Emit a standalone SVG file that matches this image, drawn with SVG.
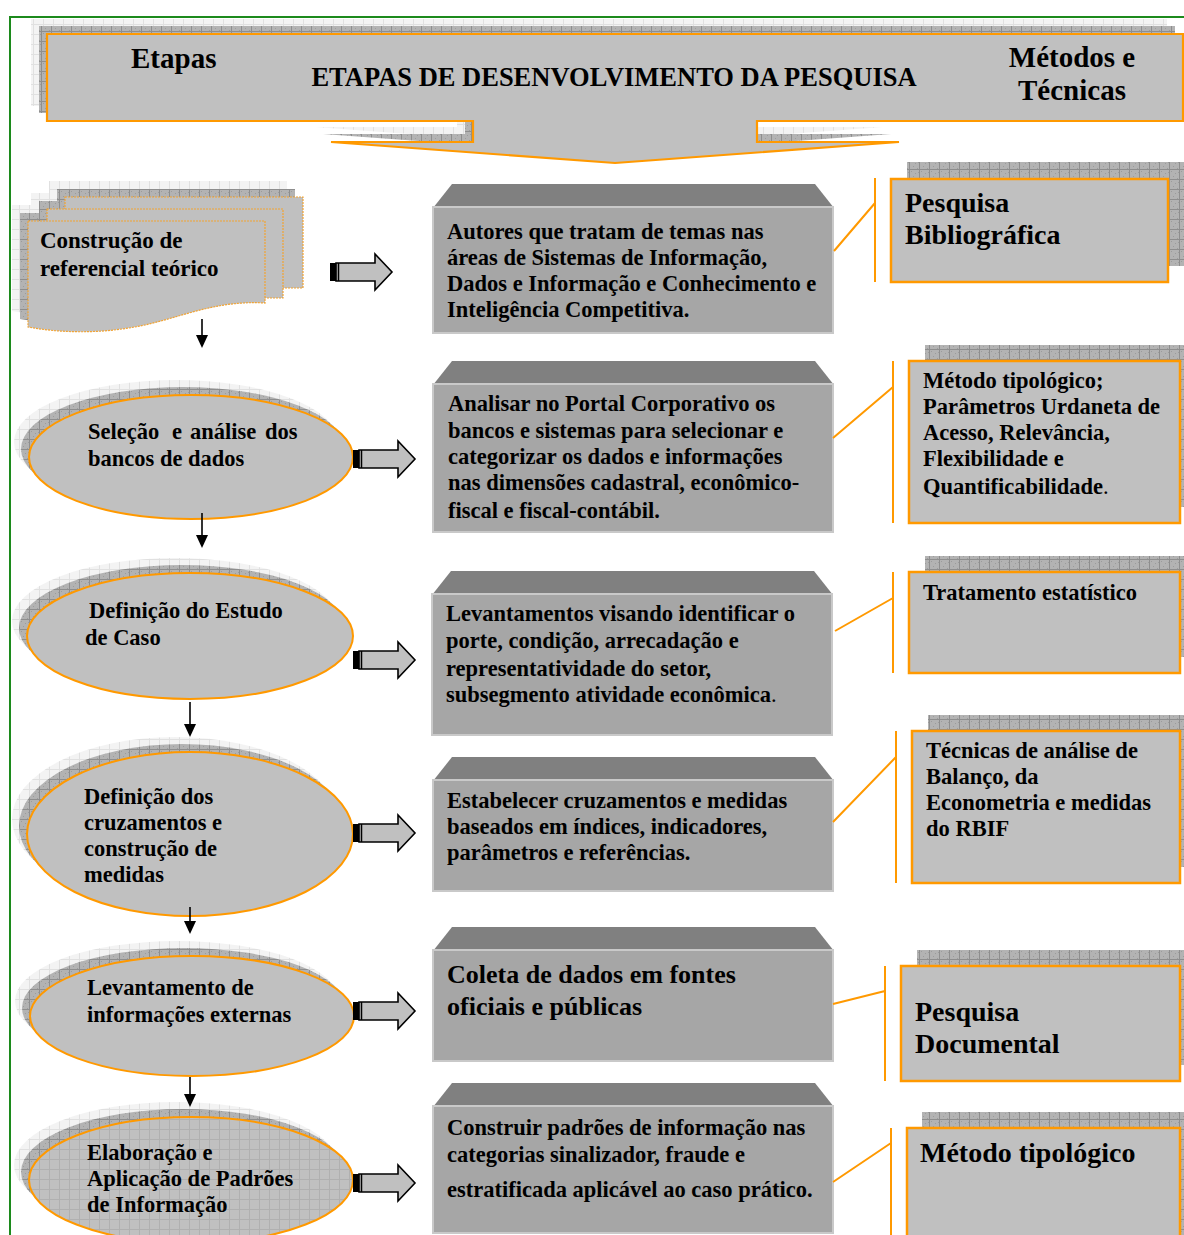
<svg xmlns="http://www.w3.org/2000/svg" width="1184" height="1235" viewBox="0 0 1184 1235">
  <defs>
    <!-- dithered grid used for the dark drop shadows -->
    <pattern id="chkDark" width="10" height="10" patternUnits="userSpaceOnUse">
      <rect width="10" height="10" fill="#b3b3b3"/>
      <path d="M1,1h1v1h-1zM5,3h1v1h-1zM3,6h1v1h-1zM7,8h1v1h-1zM8,2h1v1h-1z" fill="#9c9c9c"/>
      <path d="M0,9.5H10M9.5,0V10" stroke="#8e8e8e" stroke-width="1"/>
    </pattern>
    <!-- pale grid used for the outer soft shadows -->
    <pattern id="chkLight" width="10" height="10" patternUnits="userSpaceOnUse">
      <rect width="10" height="10" fill="#f3f3f3"/>
      <path d="M0,9.5H10M9.5,0V10" stroke="#e0e0e0" stroke-width="1"/>
    </pattern>
    <!-- grid overlay (lines only) -->
    <pattern id="gridOver" width="10" height="10" patternUnits="userSpaceOnUse">
      <path d="M0,9.5H10M9.5,0V10" stroke="#8a8a8a" stroke-width="1"/>
    </pattern>
    <!-- striped block arrow, origin at left-centre -->
    <g id="blockArrow">
      <path d="M6,-9H45V-18L62,0L45,18V9H6Z" fill="#c0c0c0" stroke="#000" stroke-width="1.6" stroke-linejoin="miter"/>
      <rect x="0" y="-9" width="6" height="18" fill="#000"/>
      <line x1="8.5" y1="-9" x2="8.5" y2="9" stroke="#000" stroke-width="1.5"/>
    </g>
    <!-- header banner outline -->
    <path id="bannerShape" d="M47,34H1183V121H757V142H899L615,163L331,142H473V121H47Z"/>
    <!-- small down arrow head -->
    <marker id="downHead" markerWidth="14" markerHeight="14" refX="6" refY="6" orient="auto" markerUnits="userSpaceOnUse">
      <path d="M0,0L13,6L0,12Z" fill="#000"/>
    </marker>
  </defs>

  <style>
    .t { font-family: "Liberation Serif", "Times New Roman", serif; font-weight: bold; fill: #000; }
    .s22 { font-size: 22.5px; }
    .s26 { font-size: 26px; }
    .s28 { font-size: 28px; }
    .s29 { font-size: 29px; }
    .box { fill: #a6a6a6; stroke: #c9c9c9; stroke-width: 2; }
    .bevel { fill: #808080; }
    .meth { fill: #c0c0c0; stroke: #ff9900; stroke-width: 2.5; }
    .stage { fill: #c0c0c0; stroke: #ff9900; stroke-width: 2; }
    .doc { fill: #c0c0c0; stroke: #f2a332; stroke-width: 1.2; stroke-dasharray: 2 1; }
    .link { stroke: #ff9900; stroke-width: 2; fill: none; }
    .down { stroke: #000; stroke-width: 1.6; fill: none; }
  </style>

  <rect width="1184" height="1235" fill="#fff"/>

  <!-- page frame -->
  <path d="M10,1235V17H1184" fill="none" stroke="#1c8a1c" stroke-width="2"/>

  <!-- header banner -->
  <g id="header">
    <use href="#bannerShape" transform="translate(-16,-15)" fill="url(#chkLight)"/>
    <use href="#bannerShape" transform="translate(-8,-8)" fill="url(#chkDark)"/>
    <use href="#bannerShape" fill="#c0c0c0" stroke="#ff9900" stroke-width="2.2"/>
    <text class="t s29" x="131" y="68">Etapas</text>
    <text class="t" x="614" y="86" font-size="26.5" text-anchor="middle">ETAPAS DE DESENVOLVIMENTO DA PESQUISA</text>
    <text class="t s29" x="1072" y="67" text-anchor="middle">Métodos e</text>
    <text class="t s29" x="1072" y="100" text-anchor="middle">Técnicas</text>
  </g>

  <!-- stage 1: stacked documents -->
  <g id="stage1">
    <rect x="49" y="181" width="238" height="91" fill="url(#chkLight)"/>
    <rect x="31" y="193" width="236" height="89" fill="url(#chkLight)"/>
    <path d="M12,205H249V287C199,284 164,302 124,310C84,318 44,317 12,311Z" fill="url(#chkLight)"/>
    <rect x="57" y="189" width="238" height="91" fill="url(#chkDark)"/>
    <rect x="39" y="201" width="236" height="89" fill="url(#chkDark)"/>
    <path d="M20,213H257V295C207,292 172,310 132,318C92,326 52,325 20,319Z" fill="url(#chkDark)"/>
    <rect class="doc" x="65" y="197" width="238" height="91"/>
    <rect class="doc" x="47" y="209" width="236" height="89"/>
    <path class="doc" d="M28,221H265V303C215,300 180,318 140,326C100,334 60,333 28,327Z"/>
    <text class="t" x="40" y="248" font-size="23">Construção de</text>
    <text class="t" x="40" y="276" font-size="23">referencial teórico</text>
  </g>

  <!-- stage 2 -->
  <g id="stage2">
    <ellipse cx="176" cy="442" rx="162" ry="62" fill="url(#chkLight)"/>
    <ellipse cx="183" cy="449" rx="162" ry="62" fill="url(#chkDark)"/>
    <ellipse class="stage" cx="191" cy="457" rx="162" ry="62"/>
    <text class="t s22" y="439"><tspan x="88">Seleção</tspan><tspan x="172">e</tspan><tspan x="190">análise</tspan><tspan x="265">dos</tspan></text>
    <text class="t s22" x="88" y="466">bancos de dados</text>
  </g>

  <!-- stage 3 -->
  <g id="stage3">
    <ellipse cx="175" cy="621" rx="163" ry="63" fill="url(#chkLight)"/>
    <ellipse cx="182" cy="628" rx="163" ry="63" fill="url(#chkDark)"/>
    <ellipse class="stage" cx="190" cy="636" rx="163" ry="63"/>
    <text class="t s22" x="89" y="618">Definição do Estudo</text>
    <text class="t s22" x="85" y="645">de Caso</text>
  </g>

  <!-- stage 4 -->
  <g id="stage4">
    <ellipse cx="175" cy="819" rx="163" ry="82" fill="url(#chkLight)"/>
    <ellipse cx="182" cy="826" rx="163" ry="82" fill="url(#chkDark)"/>
    <ellipse class="stage" cx="190" cy="834" rx="163" ry="82"/>
    <text class="t s22" x="84" y="804">Definição dos</text>
    <text class="t s22" x="84" y="830">cruzamentos e</text>
    <text class="t s22" x="84" y="856">construção de</text>
    <text class="t s22" x="84" y="882">medidas</text>
  </g>

  <!-- stage 5 -->
  <g id="stage5">
    <ellipse cx="177" cy="1001" rx="162" ry="60" fill="url(#chkLight)"/>
    <ellipse cx="184" cy="1008" rx="162" ry="60" fill="url(#chkDark)"/>
    <ellipse class="stage" cx="192" cy="1016" rx="162" ry="60"/>
    <text class="t s22" x="87" y="995">Levantamento de</text>
    <text class="t s22" x="87" y="1022">informações externas</text>
  </g>

  <!-- stage 6 -->
  <g id="stage6">
    <ellipse cx="176" cy="1165" rx="162" ry="63" fill="url(#chkLight)"/>
    <ellipse cx="183" cy="1172" rx="162" ry="63" fill="url(#chkDark)"/>
    <ellipse class="stage" cx="191" cy="1180" rx="162" ry="63"/>
    <ellipse cx="191" cy="1180" rx="161" ry="62" fill="url(#gridOver)" opacity="0.3"/>
    <text class="t s22" x="87" y="1160">Elaboração e</text>
    <text class="t s22" x="87" y="1186">Aplicação de Padrões</text>
    <text class="t s22" x="87" y="1212">de Informação</text>
  </g>

  <!-- activity boxes -->
  <g id="task1">
    <path class="bevel" d="M433,208L452,184H815L834,208Z"/>
    <rect class="box" x="433" y="207" width="400" height="126"/>
    <text class="t s22" x="447" y="239">Autores que tratam de temas nas</text>
    <text class="t s22" x="447" y="265">áreas de Sistemas de Informação,</text>
    <text class="t s22" x="447" y="291">Dados e Informação e Conhecimento e</text>
    <text class="t s22" x="447" y="317">Inteligência Competitiva.</text>
  </g>
  <g id="task2">
    <path class="bevel" d="M433,385L452,361H815L834,385Z"/>
    <rect class="box" x="433" y="384" width="400" height="148"/>
    <text class="t s22" x="448" y="411">Analisar no Portal Corporativo os</text>
    <text class="t s22" x="448" y="438">bancos e sistemas para selecionar e</text>
    <text class="t s22" x="448" y="464">categorizar os dados e informações</text>
    <text class="t s22" x="448" y="490">nas dimensões cadastral, econômico-</text>
    <text class="t s22" x="448" y="518">fiscal e fiscal-contábil.</text>
  </g>
  <g id="task3">
    <path class="bevel" d="M432,595L451,571H814L833,595Z"/>
    <rect class="box" x="432" y="594" width="400" height="141"/>
    <text class="t s22" x="446" y="621">Levantamentos visando identificar o</text>
    <text class="t s22" x="446" y="648">porte, condição, arrecadação e</text>
    <text class="t s22" x="446" y="676">representatividade do setor,</text>
    <text class="t s22" x="446" y="702">subsegmento atividade econômica<tspan font-weight="normal">.</tspan></text>
  </g>
  <g id="task4">
    <path class="bevel" d="M433,781L452,757H815L834,781Z"/>
    <rect class="box" x="433" y="780" width="400" height="111"/>
    <text class="t s22" x="447" y="808">Estabelecer cruzamentos e medidas</text>
    <text class="t s22" x="447" y="834">baseados em índices, indicadores,</text>
    <text class="t s22" x="447" y="860">parâmetros e referências.</text>
  </g>
  <g id="task5">
    <path class="bevel" d="M433,951L452,927H815L834,951Z"/>
    <rect class="box" x="433" y="950" width="400" height="111"/>
    <text class="t s26" x="447" y="983">Coleta de dados em fontes</text>
    <text class="t s26" x="447" y="1015">oficiais e públicas</text>
  </g>
  <g id="task6">
    <path class="bevel" d="M433,1107L452,1083H815L834,1107Z"/>
    <rect class="box" x="433" y="1106" width="400" height="127"/>
    <text class="t s22" x="447" y="1135">Construir padrões de informação nas</text>
    <text class="t s22" x="447" y="1162">categorias sinalizador, fraude e</text>
    <text class="t s22" x="447" y="1197">estratificada aplicável ao caso prático.</text>
  </g>

  <!-- methods and techniques -->
  <g id="method1">
    <rect x="907" y="162" width="277" height="104" fill="url(#chkDark)"/>
    <rect class="meth" x="891" y="179" width="277" height="103"/>
    <text class="t s28" x="905" y="212">Pesquisa</text>
    <text class="t s28" x="905" y="244">Bibliográfica</text>
  </g>
  <g id="method2">
    <rect x="925" y="345" width="259" height="162" fill="url(#chkDark)"/>
    <rect class="meth" x="909" y="361" width="271" height="162"/>
    <text class="t s22" x="923" y="388">Método tipológico;</text>
    <text class="t s22" x="923" y="414">Parâmetros Urdaneta de</text>
    <text class="t s22" x="923" y="440">Acesso, Relevância,</text>
    <text class="t s22" x="923" y="466">Flexibilidade e</text>
    <text class="t s22" x="923" y="494">Quantificabilidade<tspan font-weight="normal">.</tspan></text>
  </g>
  <g id="method3">
    <rect x="925" y="556" width="259" height="101" fill="url(#chkDark)"/>
    <rect class="meth" x="909" y="572" width="271" height="101"/>
    <text class="t s22" x="923" y="600">Tratamento estatístico</text>
  </g>
  <g id="method4">
    <rect x="928" y="715" width="256" height="152" fill="url(#chkDark)"/>
    <rect class="meth" x="912" y="731" width="268" height="152"/>
    <text class="t s22" x="926" y="758">Técnicas de análise de</text>
    <text class="t s22" x="926" y="784">Balanço, da</text>
    <text class="t s22" x="926" y="810">Econometria e medidas</text>
    <text class="t s22" x="926" y="836">do RBIF</text>
  </g>
  <g id="method5">
    <rect x="917" y="950" width="267" height="115" fill="url(#chkDark)"/>
    <rect class="meth" x="901" y="966" width="279" height="115"/>
    <text class="t s28" x="915" y="1021">Pesquisa</text>
    <text class="t s28" x="915" y="1053">Documental</text>
  </g>
  <g id="method6">
    <rect x="922" y="1112" width="262" height="123" fill="url(#chkDark)"/>
    <rect class="meth" x="907" y="1128" width="273" height="117"/>
    <text class="t s28" x="920" y="1162">Método tipológico</text>
  </g>

  <!-- connectors -->
  <g id="connectors">
    <!-- stage to activity -->
    <use href="#blockArrow" transform="translate(330,272)"/>
    <use href="#blockArrow" transform="translate(353,459)"/>
    <use href="#blockArrow" transform="translate(353,660)"/>
    <use href="#blockArrow" transform="translate(353,833)"/>
    <use href="#blockArrow" transform="translate(353,1011)"/>
    <use href="#blockArrow" transform="translate(353,1183)"/>
    <!-- stage sequence -->
    <line class="down" x1="202" y1="319" x2="202" y2="341" marker-end="url(#downHead)"/>
    <line class="down" x1="202" y1="513" x2="202" y2="541" marker-end="url(#downHead)"/>
    <line class="down" x1="190" y1="702" x2="190" y2="730" marker-end="url(#downHead)"/>
    <line class="down" x1="190" y1="907" x2="190" y2="927" marker-end="url(#downHead)"/>
    <line class="down" x1="190" y1="1077" x2="190" y2="1100" marker-end="url(#downHead)"/>
    <!-- activity to method brackets -->
    <path class="link" d="M875,178V282M834,251L875,203"/>
    <path class="link" d="M893,361V523M833,438L893,387"/>
    <path class="link" d="M893,572V673M835,631L893,598"/>
    <path class="link" d="M896,731V883M833,822L896,757"/>
    <path class="link" d="M885,966V1081M833,1004L885,991"/>
    <path class="link" d="M891,1128V1235M833,1182L891,1143"/>
  </g>
</svg>
